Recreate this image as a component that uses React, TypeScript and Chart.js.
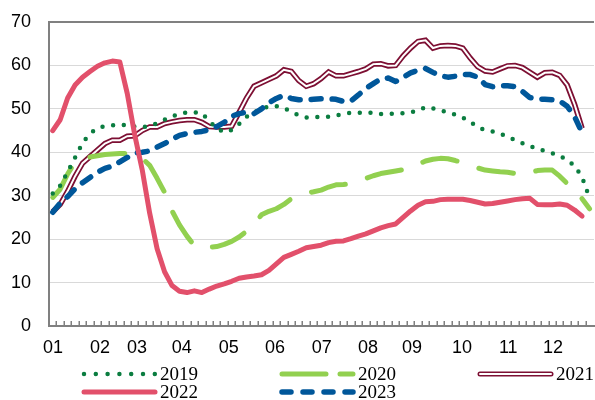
import React, { useEffect, useRef } from 'react';
import { Chart, registerables } from 'chart.js';

Chart.register(...registerables);

// Month tick labels and their position on the 5-day-period axis
const monthLabels = ['01', '02', '03', '04', '05', '06', '07', '08', '09', '10', '11', '12'];
const monthTickPos = [0.04, 6.35, 11.3, 17.3, 23.6, 29.8, 36.1, 42.3, 48.2, 54.9, 61.1, 67.1];
const yMin = 0;
const yMax = 70;
const yStep = 10;

const s2019 = [
  30.5, 32.3, 35.5, 38.8, 42.2, 44.3, 45.6, 46.0, 46.2, 46.3,
  46.3, 45.9, 45.8, 46.0, 46.7, 47.5, 48.3, 48.8, 49.2, 49.2,
  49.0, 47.2, 45.5, 44.6, 45.1, 46.5, 48.2, 49.2, 50.0, 50.6,
  50.6, 50.2, 49.3, 48.5, 48.0, 48.1, 48.2, 48.2, 48.5, 48.8,
  49.1, 49.1, 49.1, 49.1, 48.8, 48.8, 48.9, 49.0, 49.2, 49.6,
  50.4, 50.1, 49.7, 49.1, 48.7, 48.0, 47.0, 45.8, 45.1, 44.8,
  44.3, 43.6, 42.8, 42.1, 41.4, 40.8, 40.3, 39.8, 39.2, 38.2,
  36.9, 34.3, 29.5,
];

const s2020 = [
  29.6, 31.5, 35.0, 37.8, 38.5, 38.9, 39.2, 39.5, 39.6, 39.7,
  39.7, 39.4, 38.6, 37.0, 34.0, 30.8, 26.5, 23.3, 20.7, 18.5,
  18.2, 18.1, 18.3, 18.8, 19.5, 20.5, 21.8, 23.5, 25.6, 26.4,
  27.0, 28.0, 29.3, 30.2, 30.6, 30.9, 31.3, 32.0, 32.5, 32.6,
  32.8, 33.3, 34.0, 34.6, 35.1, 35.4, 35.7, 36.0, 36.4, 37.2,
  38.0, 38.4, 38.6, 38.5, 38.1, 37.6, 37.0, 36.4, 35.9, 35.7,
  35.5, 35.4, 35.1, 34.8, 35.3, 35.8, 35.9, 35.9, 34.5, 32.8,
  31.5, 29.3, 27.0,
];

const s2021 = [
  26.3, 28.0, 31.0, 34.5, 37.5, 39.0, 40.5, 42.0, 42.8, 42.8,
  43.7, 43.8, 45.0, 45.8, 45.8, 46.6, 47.0, 47.3, 47.5, 47.5,
  46.9, 45.9, 45.8, 45.8, 46.0, 49.2, 52.5, 55.2, 56.0, 56.8,
  57.6, 59.0, 58.6, 56.5, 55.2, 55.8, 57.0, 58.5, 57.6, 57.6,
  58.1, 58.6, 59.2, 60.3, 60.4, 59.9, 60.0, 62.2, 64.0, 65.5,
  65.8, 64.0, 64.5, 64.6, 64.5, 64.0, 61.7, 59.7, 58.7, 58.5,
  59.2, 59.9, 60.0, 59.5, 58.4, 57.3, 58.3, 58.4, 57.7, 55.5,
  51.0, 45.5,
];

const s2022 = [
  45.0, 47.5, 52.5, 55.5, 57.3, 58.6, 59.8, 60.6, 61.0, 60.8,
  53.5, 44.0, 36.0, 26.0, 17.8, 12.5, 9.3, 8.0, 7.7, 8.1,
  7.7, 8.5, 9.2, 9.7, 10.3, 11.0, 11.3, 11.5, 11.8, 12.8,
  14.3, 15.8, 16.5, 17.2, 18.0, 18.3, 18.6, 19.2, 19.5, 19.6,
  20.1, 20.7, 21.2, 21.9, 22.6, 23.1, 23.5, 25.0, 26.5, 27.8,
  28.6, 28.7, 29.1, 29.2, 29.2, 29.2, 28.9, 28.5, 28.1, 28.2,
  28.5, 28.8, 29.1, 29.3, 29.4, 28.0, 27.9, 27.9, 28.1, 27.8,
  26.7, 25.3,
];

const s2023 = [
  26.2, 28.3, 29.8, 31.6, 33.0, 34.2, 35.4, 36.3, 36.8, 37.8,
  38.8, 39.8, 40.0, 40.3, 41.2, 42.0, 43.0, 43.9, 44.3, 44.6,
  44.8, 45.2, 45.9, 46.9, 48.3, 48.9, 49.2, 48.9, 50.0, 51.4,
  52.4, 53.1, 52.4, 52.1, 52.1, 52.2, 52.3, 52.3, 52.2, 51.7,
  51.8, 53.2, 54.7, 55.8, 56.9, 57.1, 56.3, 57.3, 58.3, 58.9,
  59.3, 58.4, 57.6, 57.3, 57.5, 57.9, 57.9, 57.3, 55.6, 55.1,
  55.3, 55.3, 55.1, 54.0, 52.6, 52.3, 52.2, 52.1, 51.8, 50.6,
  48.2, 44.5,
];

const C2019 = '#0b7d40';
const C2020 = '#92d050';
const C2021 = '#7d0f33';
const C2022 = '#e2506b';
const C2023 = '#00579a';
const GRID = '#d9d9d9';
const AXIS = '#808080';

const toXY = (arr: number[]) => arr.map((v, i) => ({ x: i, y: v }));

const decorPlugin = {
  id: 'decor',
  beforeDatasetsDraw(chart: any) {
    const ctx = chart.ctx;
    const xs = chart.scales.x;
    const bottom = chart.chartArea.bottom;
    ctx.save();
    ctx.strokeStyle = AXIS;
    ctx.lineWidth = 1.5;
    for (let i = 0; i < s2019.length - 1; i++) {
      const x = Math.round(xs.getPixelForValue(i + 0.5)) + 0.25;
      ctx.beginPath();
      ctx.moveTo(x, bottom);
      ctx.lineTo(x, bottom - 5);
      ctx.stroke();
    }
    ctx.restore();
  },
  afterDraw(chart: any) {
    const ctx = chart.ctx;
    ctx.save();
    const colX = [84, 282, 480];
    const rowY = [374, 392];
    const sampleW = 71;
    const items = [
      { label: '2019', col: 0, row: 0, kind: 'dot' },
      { label: '2020', col: 1, row: 0, kind: 'dash20' },
      { label: '2021', col: 2, row: 0, kind: 'double' },
      { label: '2022', col: 0, row: 1, kind: 'solid' },
      { label: '2023', col: 1, row: 1, kind: 'dash23' },
    ];
    ctx.font = '19px "Liberation Serif", "Times New Roman", serif';
    ctx.textBaseline = 'middle';
    ctx.fillStyle = '#000';
    items.forEach((it) => {
      const x0 = colX[it.col];
      const y = rowY[it.row];
      const x1 = x0 + sampleW;
      ctx.lineCap = 'round';
      ctx.setLineDash([]);
      const line = (color: string, w: number, dash: number[]) => {
        ctx.strokeStyle = color;
        ctx.lineWidth = w;
        ctx.setLineDash(dash);
        ctx.beginPath();
        ctx.moveTo(x0, y);
        ctx.lineTo(x1, y);
        ctx.stroke();
      };
      if (it.kind === 'dot') line(C2019, 4.5, [0, 11.8]);
      else if (it.kind === 'dash20') line(C2020, 5, [44, 14]);
      else if (it.kind === 'double') {
        line(C2021, 5, []);
        line('#ffffff', 2, []);
      } else if (it.kind === 'solid') line(C2022, 5, []);
      else line(C2023, 5.5, [9, 12]);
      ctx.setLineDash([]);
      ctx.fillText(it.label, x1 + 5, y + 1);
    });
    ctx.restore();
  },
};

export default function App() {
  const ref = useRef<HTMLCanvasElement | null>(null);

  useEffect(() => {
    document.body.style.margin = '0';
    if (!ref.current) return;
    const common = { pointRadius: 0, tension: 0, fill: false };
    const chart = new Chart(ref.current, {
      type: 'line',
      data: {
        datasets: [
          { ...common, label: '2022', data: toXY(s2022), borderColor: C2022, borderWidth: 5, borderJoinStyle: 'round', borderCapStyle: 'round' },
          { ...common, label: '2023', data: toXY(s2023), borderColor: C2023, borderWidth: 5.5, borderDash: [10, 11], borderCapStyle: 'round', borderJoinStyle: 'round' },
          { ...common, label: '2019', data: toXY(s2019), borderColor: C2019, borderWidth: 4.5, borderDash: [0, 10.7], borderCapStyle: 'round', borderJoinStyle: 'round' },
          { ...common, label: '2020', data: toXY(s2020), borderColor: C2020, borderWidth: 5, borderDash: [35, 23], borderCapStyle: 'round', borderJoinStyle: 'round' },
          { ...common, label: '2021 inner', data: toXY(s2021), borderColor: '#ffffff', borderWidth: 2, borderJoinStyle: 'miter' },
          { ...common, label: '2021', data: toXY(s2021), borderColor: C2021, borderWidth: 5.5, borderJoinStyle: 'miter' },
        ],
      },
      options: {
        animation: false,
        responsive: true,
        maintainAspectRatio: false,
        layout: { padding: { top: 22, right: 1, bottom: 34, left: 0 } },
        plugins: { legend: { display: false }, tooltip: { enabled: false } },
        scales: {
          x: {
            type: 'linear',
            min: -0.5,
            max: 72.6,
            afterFit: (s: any) => { s.height = 40; },
            afterBuildTicks: (s: any) => { s.ticks = monthTickPos.map((v) => ({ value: v })); },
            grid: { display: false, drawTicks: false },
            border: { display: true, color: AXIS, width: 2 },
            ticks: {
              autoSkip: false,
              maxRotation: 0,
              padding: 11,
              color: '#000',
              font: { family: '"Liberation Sans", Arial, sans-serif', size: 18 },
              callback: (_v: any, i: number) => monthLabels[i],
            },
          },
          y: {
            min: yMin,
            max: yMax,
            afterFit: (s: any) => { s.width = 49; s.paddingTop = 0; s.paddingBottom = 0; },
            grid: {
              drawTicks: false,
              color: (c: any) => (c.tick && c.tick.value === yMax ? AXIS : GRID),
              lineWidth: (c: any) => (c.tick && c.tick.value === yMax ? 2 : 1),
            },
            border: { display: true, color: AXIS, width: 2 },
            ticks: {
              stepSize: yStep,
              padding: 18,
              color: '#000',
              font: { family: '"Liberation Sans", Arial, sans-serif', size: 18 },
            },
          },
        },
      },
      plugins: [decorPlugin],
    } as any);
    return () => chart.destroy();
  }, []);

  return (
    <div style={{ position: 'absolute', left: 0, top: 0, width: 595, height: 400 }}>
      <canvas ref={ref} />
    </div>
  );
}
